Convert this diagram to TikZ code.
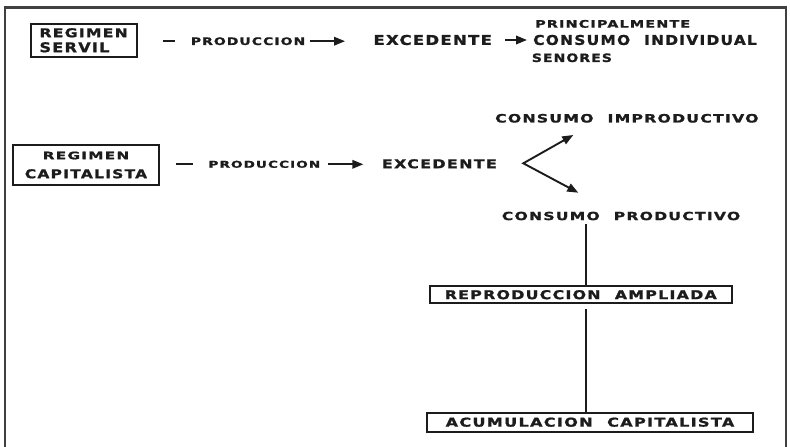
\documentclass[tikz,border=0pt]{standalone}
\usepackage{graphicx}
\usepackage{fontspec}
\setmainfont{DejaVu Sans}[LetterSpace=8, BoldFeatures={FakeBold=1.2}]
\usetikzlibrary{arrows.meta}
\newcommand{\tx}[3]{\resizebox{#1pt}{#2pt}{\bfseries #3}}
\newcommand{\wgap}{\hspace{0.9em}}
\definecolor{ink}{HTML}{1C1C1C}
\begin{document}
\begin{tikzpicture}[x=1pt,y=-1pt,
  txt/.style={inner sep=0pt, anchor=west, text=ink},
  bx/.style={draw=ink, line width=1.9pt, inner sep=0pt, text=ink},
  ln/.style={draw=ink, line width=1.9pt},
  tip/.tip={Triangle[length=11pt,width=8.5pt]},
  arr/.style={draw=ink, line width=1.9pt, -tip},
  frame/.style={draw=black!75, line width=2.4pt}]
\useasboundingbox (0,0) rectangle (790,447);
\fill[white] (0,0) rectangle (790,447);
\draw[frame] (5,448) -- (5,7.5) -- (786,7.5) -- (786,448);

% row 1
\node[bx, minimum width=106.6pt, minimum height=32.7pt, text width=89pt, align=left,
      font=\fontsize{10}{15}\selectfont] (rs) at (84,40.3)
      {\tx{88.3}{9}{REGIMEN}\\\tx{70}{10}{SERVIL}};
\node[txt] (p1) at (190.7,41.2) {\tx{114.3}{7.7}{PRODUCCION}};
\node[txt] (e1) at (373.3,40) {\tx{118.4}{10}{EXCEDENTE}};
\node[txt] (pr) at (535,23.9) {\tx{155}{7.7}{PRINCIPALMENTE}};
\node[txt] (ci) at (533,40) {\tx{223.7}{10}{CONSUMO\wgap INDIVIDUAL}};
\node[txt] (se) at (531.7,57.8) {\tx{80}{8.5}{SENORES}};

\draw[ln, shorten <=24.7pt, shorten >=15.7pt] (rs.east |- p1.west) -- (p1.west);
\draw[arr, shorten <=5pt, shorten >=28.3pt] (p1.east) -- (e1.west |- p1.east);
\draw[arr, shorten <=13.3pt, shorten >=6pt] (e1.east) -- (ci.west);

% row 2
\node[bx, minimum width=146.6pt, minimum height=40pt, align=center,
      font=\fontsize{10}{19}\selectfont] (rc) at (86,165)
      {\tx{86.6}{7.6}{REGIMEN}\\\tx{122.3}{9}{CAPITALISTA}};
\node[txt] (p2) at (208.3,164.3) {\tx{111.7}{7}{PRODUCCION}};
\node[txt] (e2) at (381.7,163.8) {\tx{115}{9}{EXCEDENTE}};
\node[txt] (im) at (495,118.3) {\tx{263.3}{8.5}{CONSUMO\wgap IMPRODUCTIVO}};
\node[txt] (cp) at (501.7,216) {\tx{238.3}{8.3}{CONSUMO\wgap PRODUCTIVO}};

\draw[ln, shorten <=15.7pt, shorten >=15pt] (rc.east |- p2.west) -- (p2.west);
\draw[arr, shorten <=8pt, shorten >=18.4pt] (p2.east) -- (e2.west |- p2.east);

\coordinate (v) at (523.3,163.3);
\coordinate (t1) at (573.3,135);
\coordinate (t2) at (578.3,192.7);
\draw[ln, tip-tip, miter limit=20] (t1) -- (v) -- (t2);

% column
\node[bx, minimum width=301.7pt, minimum height=17.3pt] (ra) at (580.8,294.7)
      {\tx{272}{9}{REPRODUCCION\wgap AMPLIADA}};
\node[bx, minimum width=326.6pt, minimum height=19pt] (ac) at (590,422.2)
      {\tx{288.7}{9}{ACUMULACION\wgap CAPITALISTA}};
\coordinate (lx) at (586,0);
\draw[ln, shorten <=4pt] (cp.south -| lx) -- (ra.north -| lx);
\draw[ln, shorten <=5pt] (ra.south -| lx) -- (ac.north -| lx);
\end{tikzpicture}
\end{document}
